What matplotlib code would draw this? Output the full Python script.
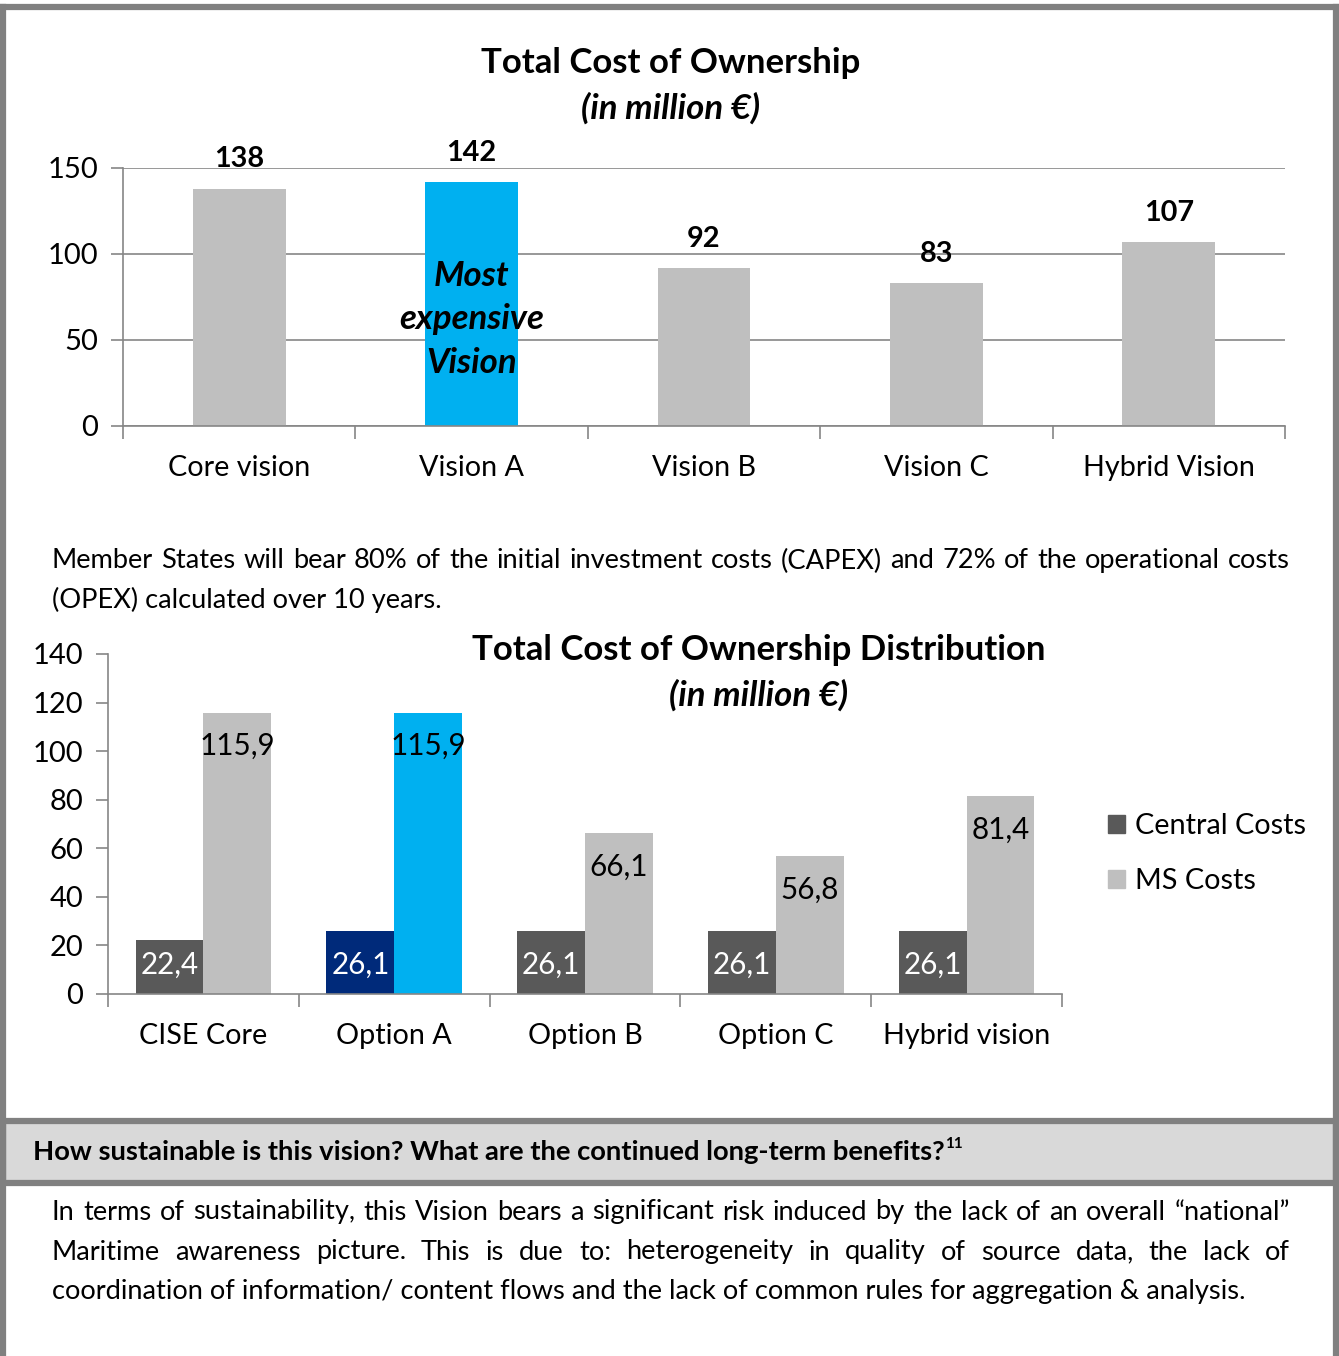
import numpy as np
import matplotlib.pyplot as plt
from matplotlib.patches import Rectangle, Patch
from matplotlib.lines import Line2D

# ---------------- données ----------------
visions = ['Core vision', 'Vision A', 'Vision B', 'Vision C', 'Hybrid Vision']
tco = [138, 142, 92, 83, 107]

options = ['CISE Core', 'Option A', 'Option B', 'Option C', 'Hybrid vision']
central_costs = [22.4, 26.1, 26.1, 26.1, 26.1]
ms_costs = [115.9, 115.9, 66.1, 56.8, 81.4]

para1 = ["Member States will bear 80% of the initial investment costs (CAPEX) and 72% of the operational costs",
         "(OPEX) calculated over 10 years."]
para2 = ["In terms of sustainability, this Vision bears a significant risk induced by the lack of an overall \u201cnational\u201d",
         "Maritime awareness picture. This is due to: heterogeneity in quality of source data, the lack of",
         "coordination of information/ content flows and the lack of common rules for aggregation & analysis."]
question = "How sustainable is this vision? What are the continued long-term benefits?"

# ---------------- style ----------------
plt.rcParams['font.family'] = ['Lato', 'DejaVu Sans']
GRIS = '#BFBFBF'
GRIS_F = '#595959'
BLEU = '#00B0F0'
BLEU_F = '#002A7A'
AXE = '#868686'

W, H = 1339, 1356
fig = plt.figure(figsize=(W / 100, H / 100), dpi=100)


def fx(x):
    return x / W


def fy(y):
    return 1 - y / H


def justifie(lignes, x0, x1, ys, taille, poids='normal'):
    rend = fig.canvas.get_renderer()
    for i, (ligne, y) in enumerate(zip(lignes, ys)):
        if i == len(lignes) - 1:
            fig.text(fx(x0), fy(y), ligne, fontsize=taille, weight=poids, va='center')
            continue
        mots = ligne.split(' ')
        txts = [fig.text(0, fy(y), m, fontsize=taille, weight=poids, va='center') for m in mots]
        larg = [t.get_window_extent(rend).width for t in txts]
        esp = (x1 - x0 - sum(larg)) / (len(mots) - 1)
        x = x0
        for t, l in zip(txts, larg):
            t.set_x(fx(x))
            x += l + esp


# ---------------- cadre ----------------
fig.add_artist(Line2D([fx(3), fx(3)], [fy(1356), fy(7)], color='#808080', lw=4.5))
fig.add_artist(Line2D([fx(1336), fx(1336)], [fy(1356), fy(7)], color='#808080', lw=4.5))
fig.add_artist(Line2D([fx(0), fx(1339)], [fy(7), fy(7)], color='#808080', lw=4.5))
fig.add_artist(Rectangle((fx(3), fy(1183)), fx(1333), (1183 - 1121) / H,
                         transform=fig.transFigure, facecolor='#D9D9D9',
                         edgecolor='#808080', lw=4.5))

# ---------------- graphique 1 ----------------
ax1 = fig.add_axes([fx(123), fy(426), (1285 - 123) / W, (426 - 168) / H])
x1 = np.arange(len(visions))
couleurs = [GRIS, BLEU, GRIS, GRIS, GRIS]
barres = ax1.bar(x1, tco, width=0.4, color=couleurs, zorder=2)
ax1.set_ylim(0, 150)
ax1.set_xlim(-0.5, len(visions) - 0.5)
ax1.set_yticks([0, 50, 100, 150])
ax1.yaxis.grid(True, color=AXE, lw=1.2, zorder=0)
ax1.set_xticks(np.arange(-0.5, len(visions)), labels=[])
ax1.set_xticks(x1, labels=visions, minor=True)
ax1.tick_params(axis='x', which='major', length=9, color=AXE, width=1.2)
ax1.tick_params(axis='x', which='minor', length=0, pad=21, labelsize=20.7)
ax1.tick_params(axis='y', length=9, color=AXE, width=1.2, labelsize=21, pad=9)
for s in ['top', 'right']:
    ax1.spines[s].set_visible(False)
for s in ['left', 'bottom']:
    ax1.spines[s].set_color(AXE)
    ax1.spines[s].set_linewidth(1.2)
for b, v in zip(barres, tco):
    ax1.annotate(str(v), (b.get_x() + b.get_width() / 2, v), xytext=(0, 21),
                 textcoords='offset points', ha='center', va='center',
                 fontsize=20.8, weight='bold')
ax1.text(1, 62, 'Most\nexpensive\nVision', ha='center', va='center', fontsize=25,
         weight='bold', style='italic', linespacing=1.45, zorder=3)

fig.text(fx(671), fy(63), 'Total Cost of Ownership', ha='center', va='center',
         fontsize=25, weight='bold')
fig.text(fx(671), fy(108), '(in million \u20ac)', ha='center', va='center',
         fontsize=25, weight='bold', style='italic')

# ---------------- paragraphe 1 ----------------
justifie(para1, 52, 1290, [561, 600], 19.6)

# ---------------- graphique 2 ----------------
ax2 = fig.add_axes([fx(108), fy(994), (1062 - 108) / W, (994 - 654) / H])
x2 = np.arange(len(options))
lb = 0.355
c_central = [GRIS_F, BLEU_F, GRIS_F, GRIS_F, GRIS_F]
c_ms = [GRIS, BLEU, GRIS, GRIS, GRIS]
b_c = ax2.bar(x2 - lb / 2, central_costs, width=lb, color=c_central, zorder=2)
b_m = ax2.bar(x2 + lb / 2, ms_costs, width=lb, color=c_ms, zorder=2)
ax2.set_ylim(0, 140)
ax2.set_xlim(-0.5, len(options) - 0.5)
ax2.set_yticks(np.arange(0, 141, 20))
ax2.set_xticks(np.arange(-0.5, len(options)), labels=[])
ax2.set_xticks(x2, labels=options, minor=True)
ax2.tick_params(axis='x', which='major', length=9, color=AXE, width=1.2)
ax2.tick_params(axis='x', which='minor', length=0, pad=21, labelsize=20.7)
ax2.tick_params(axis='y', length=9, color=AXE, width=1.2, labelsize=21, pad=9)
for s in ['top', 'right']:
    ax2.spines[s].set_visible(False)
for s in ['left', 'bottom']:
    ax2.spines[s].set_color(AXE)
    ax2.spines[s].set_linewidth(1.2)
for b, v in zip(b_c, central_costs):
    ax2.annotate(f'{v:.1f}'.replace('.', ','), (b.get_x() + b.get_width() / 2, 0),
                 xytext=(0, 21), textcoords='offset points', ha='center', va='center',
                 fontsize=21.3, color='white')
for b, v in zip(b_m, ms_costs):
    ax2.annotate(f'{v:.1f}'.replace('.', ','), (b.get_x() + b.get_width() / 2, v),
                 xytext=(0, -24), textcoords='offset points', ha='center', va='center',
                 fontsize=21.3, color='black')

poignees = [Patch(color=GRIS_F), Patch(color=GRIS)]
ax2.legend(poignees, ['Central Costs', 'MS Costs'], loc='upper left',
           bbox_to_anchor=(fx(1082), fy(787)), bbox_transform=fig.transFigure,
           frameon=False, fontsize=20.8, handlelength=0.6, handleheight=0.6,
           handletextpad=0.35, labelspacing=1.0)

fig.text(fx(759), fy(650), 'Total Cost of Ownership Distribution', ha='center', va='center',
         fontsize=25, weight='bold')
fig.text(fx(759), fy(695), '(in million \u20ac)', ha='center', va='center',
         fontsize=25, weight='bold', style='italic')

# ---------------- bandeau + paragraphe 2 ----------------
q = fig.text(fx(33), fy(1152), question, va='center', fontsize=19.7, weight='bold')
rend = fig.canvas.get_renderer()
fin = q.get_window_extent(rend).x1
fig.text(fin / W, fy(1144), '11', va='center', fontsize=11, weight='bold')

justifie(para2, 52, 1290, [1212, 1252, 1291], 19.6)

fig.savefig('out.png', dpi=100)
